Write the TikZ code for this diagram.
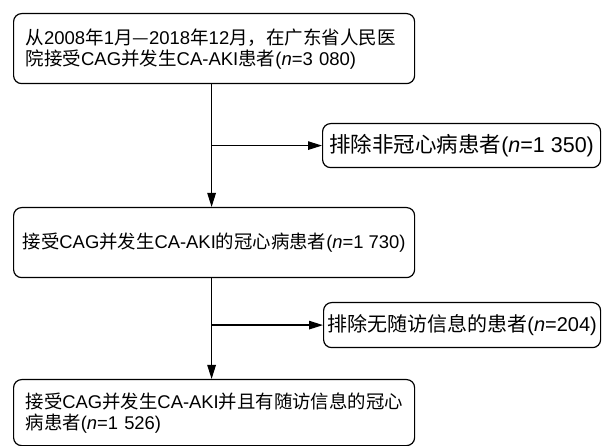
\documentclass[tikz,border=0pt]{standalone}
\usepackage{fontspec}
\setmainfont{Liberation Sans}
\newfontfamily\cjk{Noto Sans CJK SC}
\newcommand{\C}[1]{{\cjk #1}}
\usetikzlibrary{arrows.meta}
\begin{document}
\begin{tikzpicture}[x=1pt,y=1pt,
  box/.style={draw, line width=1.2pt, rounded corners=8pt, inner xsep=0pt, inner ysep=0pt},
  mainbox/.style={box, minimum width=401pt, text width=377pt, align=left, anchor=north west},
  exbox/.style={box, anchor=north west, align=center},
  arr/.style={line width=1.2pt, -{Triangle[length=14pt,width=8.5pt]}}]
\useasboundingbox (0,0) rectangle (608,-446);
\node[mainbox, minimum height=70pt, font=\fontsize{18.5pt}{21pt}\selectfont] (b1) at (13,-13)
  {\mbox{\C{从}2008\C{年}1\C{月—}2018\C{年}12\C{月，在广东省人民医}}\\
   \mbox{\C{院接受}CAG\C{并发生}CA-AKI\C{患者}(\textit{n}=3 080)}};
\node[exbox, minimum width=278pt, minimum height=44pt, font=\fontsize{21.5pt}{24pt}\selectfont] (b2) at (322,-123)
  {\C{排除非冠心病患者}(\textit{n}=1 350)};
\node[box, anchor=north west, minimum width=401pt, minimum height=70pt, font=\fontsize{18.4pt}{22pt}\selectfont] (b3) at (13,-207)
  {\C{接受}CAG\C{并发生}CA-AKI\C{的冠心病患者}(\textit{n}=1 730)};
\node[exbox, minimum width=277pt, minimum height=45pt, font=\fontsize{20pt}{23pt}\selectfont] (b4) at (323,-302)
  {\C{排除无随访信息的患者}(\textit{n}=204)};
\node[mainbox, minimum height=66pt, font=\fontsize{18.4pt}{21pt}\selectfont] (b5) at (13,-379)
  {\mbox{\C{接受}CAG\C{并发生}CA-AKI\C{并且有随访信息的冠心}}\\
   \mbox{\C{病患者}(\textit{n}=1 526)}};
\coordinate (t1) at ([xshift=-2.5pt]b1.south);
\coordinate (h1) at ([xshift=-2.5pt]b3.north);
\coordinate (j1) at (t1 |- b2.west);
\coordinate (t3) at ([xshift=-2.5pt]b3.south);
\coordinate (h3) at ([xshift=-2.5pt]b5.north);
\coordinate (j3) at (t3 |- b4.west);
\draw[arr] (t1) -- (h1);
\draw[arr] (j1) -- (b2.west);
\draw[arr] (t3) -- (h3);
\draw[arr] (j3) -- (b4.west);
\end{tikzpicture}
\end{document}
